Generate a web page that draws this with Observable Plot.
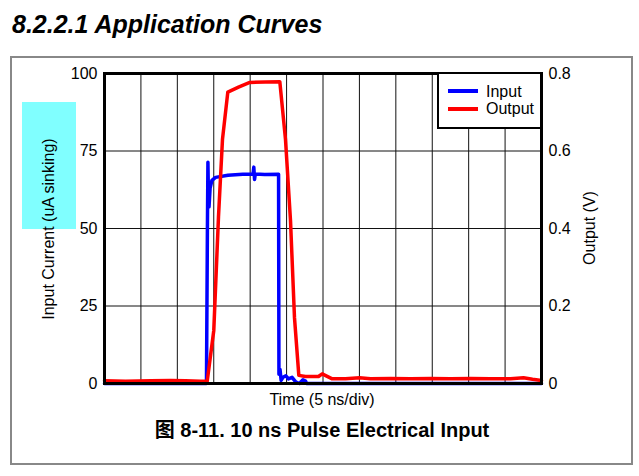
<!DOCTYPE html>
<html>
<head>
<meta charset="utf-8">
<script src="https://cdn.jsdelivr.net/npm/d3@7"></script>
<script src="https://cdn.jsdelivr.net/npm/@observablehq/plot@0.6"></script>
<style>
  body { margin: 0; background: #fff; font-family: "Liberation Sans", Arial, "Noto Sans CJK SC", sans-serif; color: #000; }
  #wrap { position: relative; width: 639px; height: 476px; overflow: hidden; background: #fff; }
  .abs { position: absolute; white-space: nowrap; }
  #box { left: 10px; top: 56px; width: 623px; height: 409px; border: 2px solid #888; box-sizing: border-box; }
  #hl { left: 22px; top: 101.5px; width: 54px; height: 127.5px; background: #80ffff; }
  #title { left: 12px; top: 12px; font-size: 25px; line-height: 25px; font-weight: bold; font-style: italic; }
  #xlab { left: 172px; width: 300px; text-align: center; top: 391.5px; font-size: 16px; line-height: 16px; }
  #cap { left: 122px; width: 400px; text-align: center; top: 419.5px; font-size: 20px; line-height: 20px; font-weight: bold; }
  #ylab { left: -101.5px; top: 221px; width: 300px; height: 16px; text-align: center; font-size: 16px; line-height: 16px; transform: rotate(-90deg); }
  #y2lab { left: 439.5px; top: 220px; width: 300px; height: 16px; text-align: center; font-size: 16px; line-height: 16px; transform: rotate(-90deg); }
  #chart { left: 0; top: 0; }
  #legend { left: 437px; top: 72px; width: 105px; height: 57px; background: #fff; border: 2.5px solid #000; box-sizing: border-box; }
  .sw { position: absolute; left: 9px; width: 30px; height: 4px; }
  .lt { position: absolute; left: 47px; font-size: 16px; line-height: 16px; }
</style>
</head>
<body>
<div id="wrap">
  <div id="box" class="abs"></div>
  <div id="hl" class="abs"></div>
  <div id="title" class="abs">8.2.2.1 Application Curves</div>
  <div id="chart" class="abs"></div>
  <div id="ylab" class="abs">Input Current (uA sinking)</div>
  <div id="y2lab" class="abs">Output (V)</div>
  <div id="xlab" class="abs">Time (5 ns/div)</div>
  <div id="cap" class="abs">图 8-11. 10 ns Pulse Electrical Input</div>
  <div id="legend" class="abs">
    <div class="sw" style="top:15px;background:#0000ff"></div>
    <div class="lt" style="top:10px">Input</div>
    <div class="sw" style="top:33px;background:#ff0000"></div>
    <div class="lt" style="top:27px">Output</div>
  </div>
</div>
<script>
// Time in divisions (5 ns/div), 12 divisions across
const inputTime = [0, 2.80, 2.826, 2.84, 2.855, 2.87, 2.90, 2.95, 3.05, 3.39, 3.80, 4.08, 4.10, 4.12, 4.14, 4.40, 4.78, 4.79, 4.82, 4.85, 4.90, 4.98, 5.05, 5.15, 5.25, 5.35, 5.45, 5.52, 5.55, 12];
// Input current (uA sinking)
const inputCurrent = [0, 0, 50, 71.4, 60, 57, 63, 65.5, 66.5, 67.2, 67.5, 67.6, 69.8, 65.8, 67.6, 67.4, 67.5, 3, 4.5, 1, 2, 2.5, 1.5, 2, 0.5, 0, 1.2, 0.8, 0, 0];

const outputTime = [0, 0.577, 1.263, 1.812, 2.224, 2.636, 2.820, 3.001, 3.130, 3.240, 3.386, 3.680, 3.990, 4.421, 4.814, 4.970, 5.108, 5.217, 5.336, 5.519, 5.876, 5.978, 6.253, 6.618, 7.003, 7.305, 7.853, 8.402, 8.952, 9.501, 10.050, 10.600, 11.149, 11.506, 11.753, 12];
// Output voltage (V)
const outputVolt = [0.007, 0.006, 0.007, 0.008, 0.007, 0.006, 0.006, 0.137, 0.43, 0.63, 0.752, 0.765, 0.777, 0.778, 0.779, 0.63, 0.42, 0.17, 0.021, 0.018, 0.018, 0.025, 0.012, 0.012, 0.015, 0.012, 0.013, 0.012, 0.013, 0.012, 0.013, 0.012, 0.012, 0.015, 0.011, 0.008];

const leftTicks = [0, 25, 50, 75, 100];
const leftTickLabels = ["0", "25", "50", "75", "100"];
const rightTickLabels = ["0", "0.2", "0.4", "0.6", "0.8"];
const gridXTicks = [1, 2, 3, 4, 5, 6, 7, 8, 9, 10, 11];
const gridYTicks = [25, 50, 75];
const inputMax = 100, outputMax = 0.8, divisions = 12;

const inputData = inputTime.map((t, i) => ({t, v: inputCurrent[i]}));
const outputData = outputTime.map((t, i) => ({t, v: outputVolt[i] * inputMax / outputMax}));

const chart = Plot.plot({
  width: 639,
  height: 476,
  marginLeft: 104,
  marginRight: 98,
  marginTop: 73,
  marginBottom: 93,
  style: {fontFamily: "'Liberation Sans', Arial, sans-serif", fontSize: "16px", color: "#000", background: "transparent", overflow: "visible"},
  x: {domain: [0, divisions], axis: null},
  y: {domain: [0, inputMax]},
  marks: [
    Plot.gridX(gridXTicks, {stroke: "#111", strokeOpacity: 1, strokeWidth: 1}),
    Plot.gridY(gridYTicks, {stroke: "#111", strokeOpacity: 1, strokeWidth: 1}),
    Plot.line(inputData, {x: "t", y: "v", stroke: "#0000ff", strokeWidth: 3.5, strokeLinejoin: "round"}),
    Plot.line(outputData, {x: "t", y: "v", stroke: "#ff0000", strokeWidth: 3.5, strokeLinejoin: "round"}),
    Plot.frame({stroke: "#000", strokeWidth: 3}),
    Plot.axisY(leftTicks, {anchor: "left", tickSize: 0, tickPadding: 7, fontSize: 16, label: null,
      tickFormat: d => leftTickLabels[leftTicks.indexOf(d)]}),
    Plot.axisY(leftTicks, {anchor: "right", tickSize: 0, tickPadding: 7, fontSize: 16, label: null,
      tickFormat: d => rightTickLabels[leftTicks.indexOf(d)]})
  ]
});
document.getElementById("chart").appendChild(chart);
</script>
</body>
</html>
